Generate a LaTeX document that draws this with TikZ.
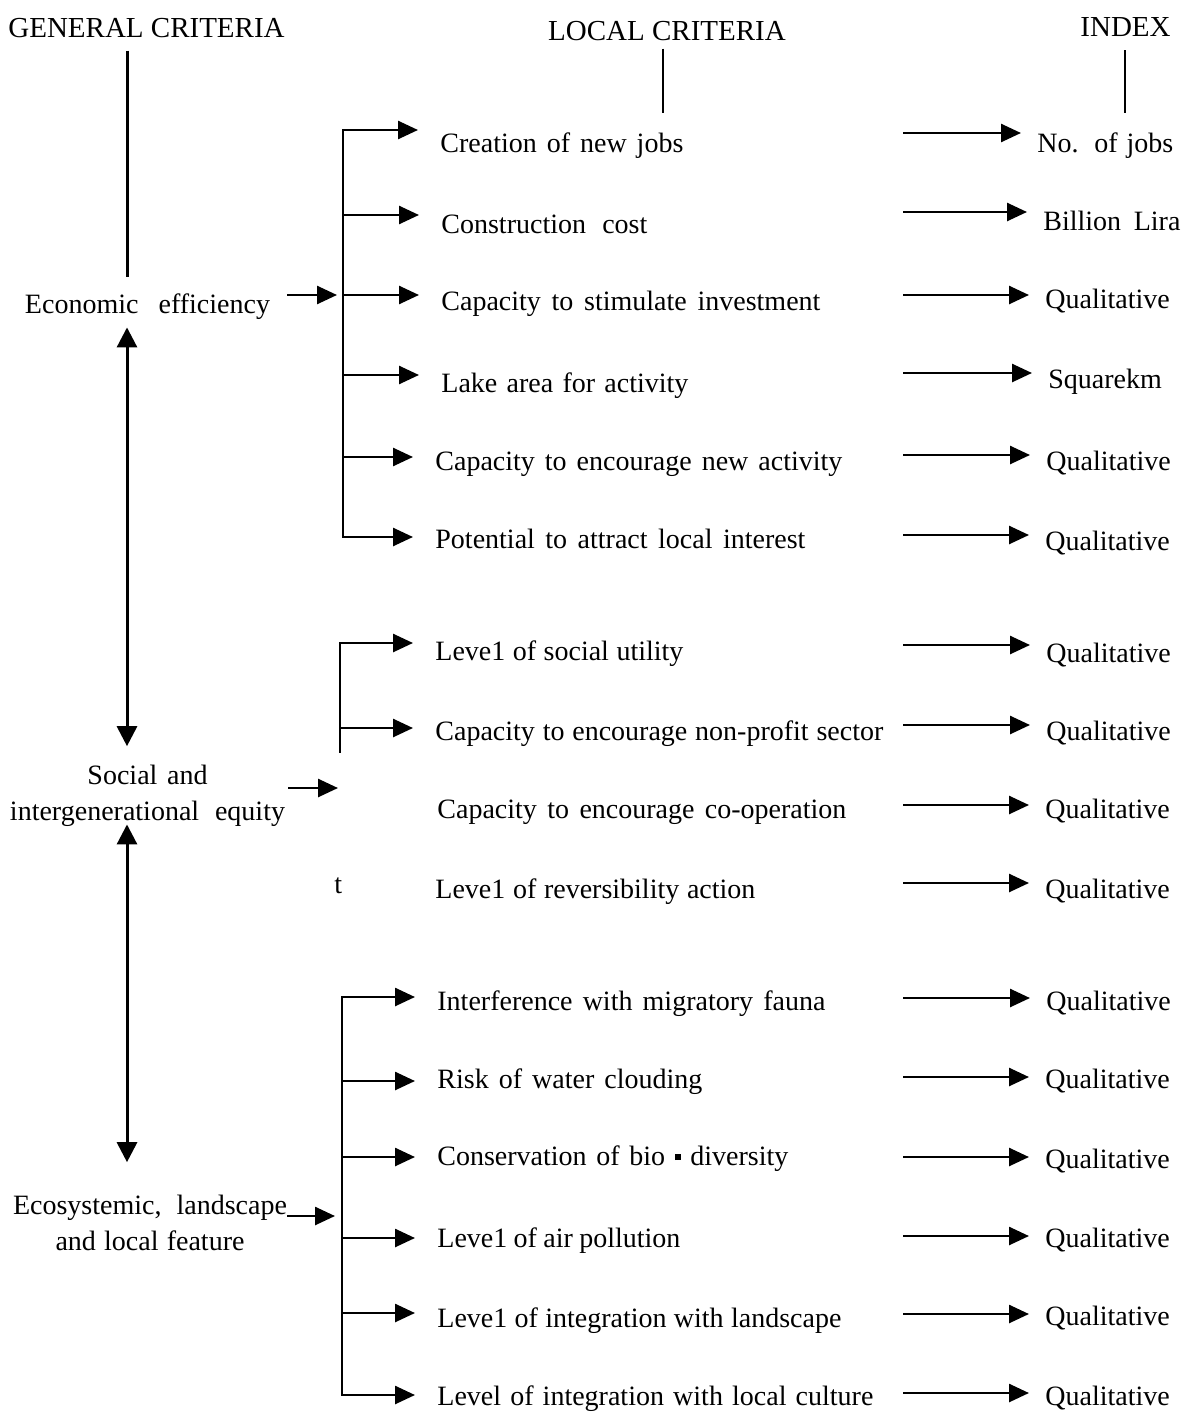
\documentclass[tikz,border=0pt]{standalone}
\usepackage{fontspec}
\setmainfont{Liberation Serif}
\usetikzlibrary{arrows.meta,calc}
\newlength{\pxu}
\setlength{\pxu}{0.5pt}
\newcommand{\spr}[2]{\makebox[#1\pxu][s]{#2}}
\tikzset{
  txt/.style={inner sep=0pt,font=\fontsize{14}{18}\selectfont},
  loc/.style={txt,anchor=base west},
  gen/.style={txt,anchor=base,align=center},
  hd/.style={txt,anchor=base,font=\fontsize{14.5}{18}\selectfont},
  arr/.style={line width=1.3pt,-{Triangle[length=10pt,width=9pt]}},
  br/.style={arr,shorten >=11pt},
  ix/.style={arr,shorten >=8pt},
  brl/.style={line width=1.2pt,line cap=rect},
  hdl/.style={line width=1pt},
  axis/.style={line width=1.5pt},
  dbl/.style={axis,{Triangle[length=10pt,width=10pt]}-{Triangle[length=10pt,width=10pt]}}
}
\begin{document}
\begin{tikzpicture}[x=0.5pt,y=-0.5pt]
              \useasboundingbox (0,0) rectangle (1186,1413);
              \node[hd](gc)at(146.5,38){GENERAL CRITERIA};
              \node[hd](lc)at(667,41){LOCAL CRITERIA};
              \node[hd](ixh)at(1125.5,37){INDEX};
              \coordinate(ax)at(127,0);
              \coordinate(lcend)at(663,113);
              \coordinate(ixend)at(1125,113);
              \draw[hdl,shorten <=3.5pt](lc.south -| lcend)--(lcend);
              \draw[hdl,shorten <=6.5pt](ixh.south -| ixend)--(ixend);
              \node[gen](eco)at(147.5,313){\spr{245}{Economic efficiency}};
              \node[gen](soc)at(147.5,820){\spr{120}{Social and}\\\spr{275}{intergenerational equity}};
              \node[gen](ecs)at(150,1250){\spr{274}{Ecosystemic, landscape}\\\spr{189}{and local feature}};
              \draw[axis,shorten <=6pt,shorten >=8pt](gc.south -| ax)--(eco.north -| ax);
              \draw[dbl,shorten <=4pt,shorten >=9pt](eco.south -| ax)--(soc.north -| ax);
              \draw[dbl,shorten <=-1pt,shorten >=16pt](soc.south -| ax)--(ecs.north -| ax);
              \coordinate(k1)at(343,130);
              \coordinate(k2)at(343,215);
              \coordinate(k3)at(343,295);
              \coordinate(k4)at(343,375);
              \coordinate(k5)at(343,457);
              \coordinate(k6)at(343,537);
              \draw[brl](k1)--(k6);
              \draw[arr,shorten <=8.5pt,shorten >=3pt](eco.east |- k3)--(k3);
              \node[loc](c1)at(440,153){\spr{243}{Creation of new jobs}};
              \node[loc](c2)at(441,233){\spr{206}{Construction cost}};
              \node[loc](c3)at(441,310){\spr{379}{Capacity to stimulate investment}};
              \node[loc](c4)at(441,392){\spr{247}{Lake area for activity}};
              \node[loc](c5)at(435,470){\spr{407}{Capacity to encourage new activity}};
              \node[loc](c6)at(435,548){\spr{370}{Potential to attract local interest}};
              \draw[br](k1)--(k1 -| c1.west);
              \draw[br](k2)--(k2 -| c2.west);
              \draw[br](k3)--(k3 -| c3.west);
              \draw[br](k4)--(k4 -| c4.west);
              \draw[br](k5)--(k5 -| c5.west);
              \draw[br](k6)--(k6 -| c6.west);
              \coordinate(k7)at(340,643);
              \coordinate(k8)at(340,728);
              \coordinate(b2end)at(340,752);
              \coordinate(sin)at(338,788);
              \draw[brl](k7)--(b2end);
              \draw[arr,shorten <=1.5pt](soc.east |- sin)--(sin);
              \node[loc](c7)at(435,660){\spr{248}{Leve1 of social utility}};
              \node[loc](c8)at(435,740){\spr{448}{Capacity to encourage non-profit sector}};
              \node[loc](c9)at(437,818){\spr{409}{Capacity to encourage co-operation}};
              \node[loc](c10)at(435,898){\spr{320}{Leve1 of reversibility action}};
              \node[loc](tt)at(334,893){t};
              \draw[br](k7)--(k7 -| c7.west);
              \draw[br](k8)--(k8 -| c8.west);
              \coordinate(k11)at(342,997);
              \coordinate(k12)at(342,1081);
              \coordinate(k13)at(342,1157);
              \coordinate(k14)at(342,1238);
              \coordinate(k15)at(342,1313);
              \coordinate(k16)at(342,1395);
              \coordinate(ein)at(342,1216);
              \draw[brl](k11)--(k16);
              \draw[arr,shorten >=3.5pt](ecs.east |- ein)--(ein);
              \node[loc](c11)at(437,1010){\spr{388}{Interference with migratory fauna}};
              \node[loc](c12)at(437,1088){\spr{265}{Risk of water clouding}};
              \node[loc](c13)at(437,1165){\spr{351}{Conservation of bio \rule[2.5pt]{3pt}{3pt} diversity}};
              \node[loc](c14)at(437,1247){\spr{243}{Leve1 of air pollution}};
              \node[loc](c15)at(437,1327){\spr{404}{Leve1 of integration with landscape}};
              \node[loc](c16)at(437,1405){\spr{436}{Level of integration with local culture}};
              \draw[br](k11)--(k11 -| c11.west);
              \draw[br](k12)--(k12 -| c12.west);
              \draw[br](k13)--(k13 -| c13.west);
              \draw[br](k14)--(k14 -| c14.west);
              \draw[br](k15)--(k15 -| c15.west);
              \draw[br](k16)--(k16 -| c16.west);
              \coordinate(s1)at(903,133);
              \coordinate(s2)at(903,212);
              \coordinate(s3)at(903,295);
              \coordinate(s4)at(903,373);
              \coordinate(s5)at(903,455);
              \coordinate(s6)at(903,535);
              \coordinate(s7)at(903,645);
              \coordinate(s8)at(903,725);
              \coordinate(s9)at(903,805);
              \coordinate(s10)at(903,883);
              \coordinate(s11)at(903,998);
              \coordinate(s12)at(903,1077);
              \coordinate(s13)at(903,1157);
              \coordinate(s14)at(903,1236);
              \coordinate(s15)at(903,1314);
              \coordinate(s16)at(903,1393);
              \node[loc](x1)at(1037,153){\spr{136}{No. of jobs}};
              \node[loc](x2)at(1043,230){\spr{137}{Billion Lira}};
              \node[loc](x3)at(1045,308){Qualitative};
              \node[loc](x4)at(1048,388){Squarekm};
              \node[loc](x5)at(1046,470){Qualitative};
              \node[loc](x6)at(1045,550){Qualitative};
              \node[loc](x7)at(1046,662){Qualitative};
              \node[loc](x8)at(1046,740){Qualitative};
              \node[loc](x9)at(1045,818){Qualitative};
              \node[loc](x10)at(1045,898){Qualitative};
              \node[loc](x11)at(1046,1010){Qualitative};
              \node[loc](x12)at(1045,1088){Qualitative};
              \node[loc](x13)at(1045,1168){Qualitative};
              \node[loc](x14)at(1045,1247){Qualitative};
              \node[loc](x15)at(1045,1325){Qualitative};
              \node[loc](x16)at(1045,1405){Qualitative};
              \draw[ix](s1)--(s1 -| x1.west);
              \draw[ix](s2)--(s2 -| x2.west);
              \draw[ix](s3)--(s3 -| x3.west);
              \draw[ix](s4)--(s4 -| x4.west);
              \draw[ix](s5)--(s5 -| x5.west);
              \draw[ix](s6)--(s6 -| x6.west);
              \draw[ix](s7)--(s7 -| x7.west);
              \draw[ix](s8)--(s8 -| x8.west);
              \draw[ix](s9)--(s9 -| x9.west);
              \draw[ix](s10)--(s10 -| x10.west);
              \draw[ix](s11)--(s11 -| x11.west);
              \draw[ix](s12)--(s12 -| x12.west);
              \draw[ix](s13)--(s13 -| x13.west);
              \draw[ix](s14)--(s14 -| x14.west);
              \draw[ix](s15)--(s15 -| x15.west);
              \draw[ix](s16)--(s16 -| x16.west);
            \end{tikzpicture}
\end{document}
